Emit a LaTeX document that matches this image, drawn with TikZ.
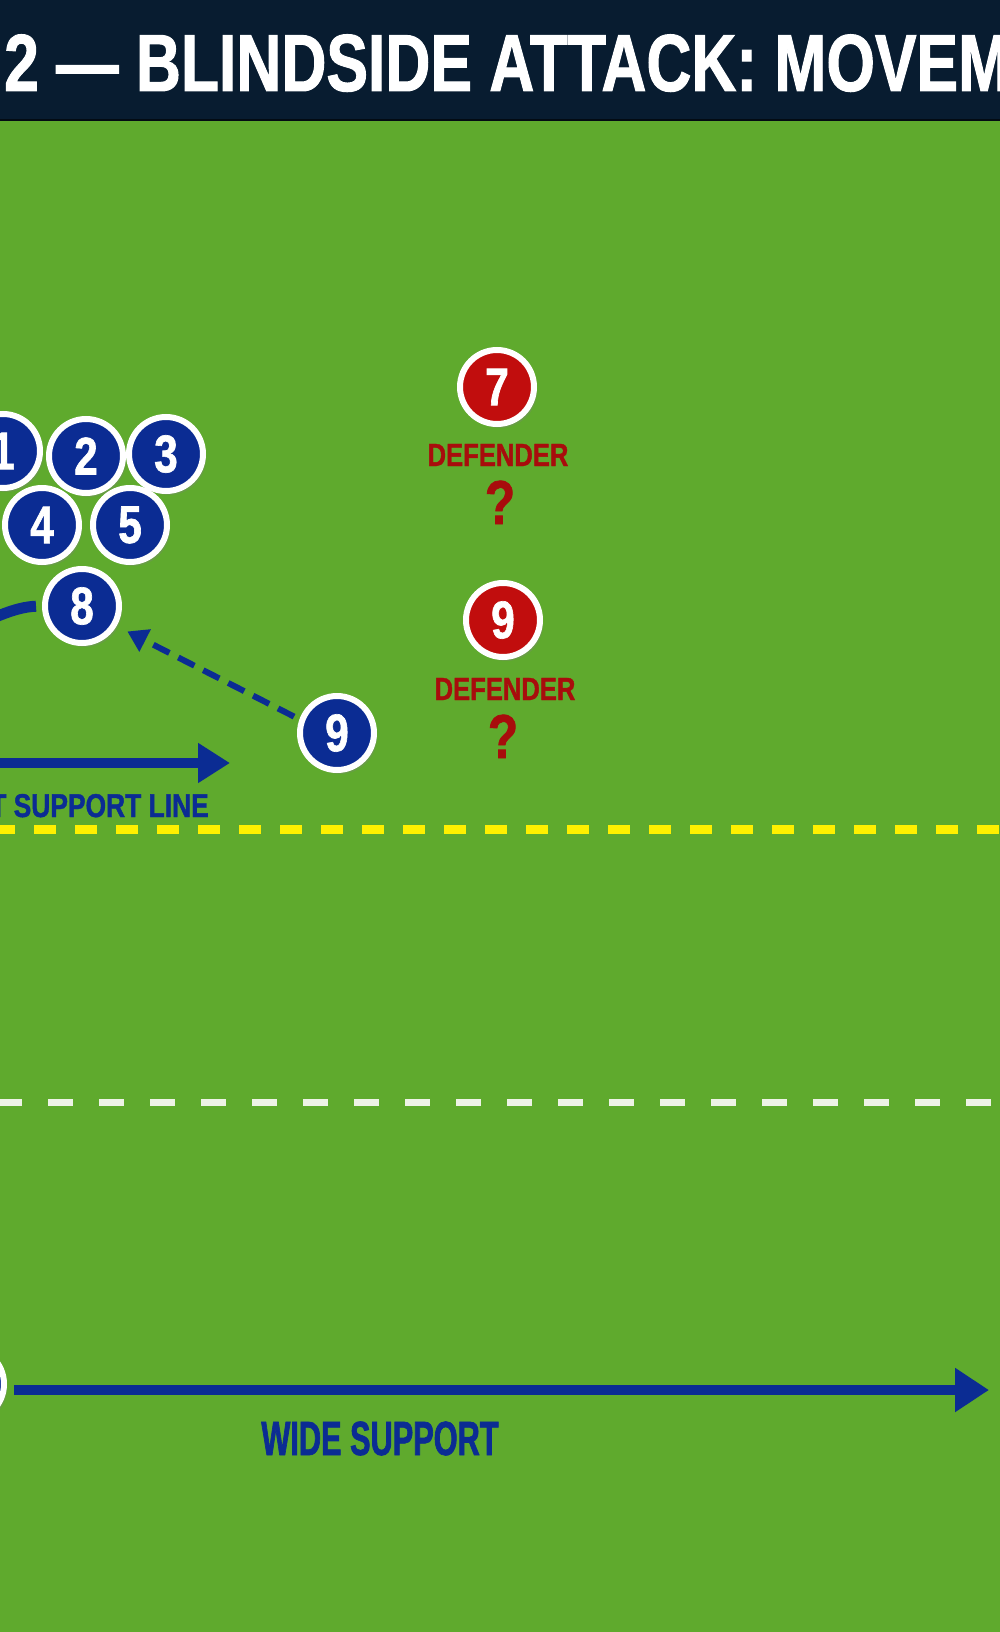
\documentclass[tikz,border=0pt]{standalone}
\usepackage{fontspec}
\setmainfont{Liberation Sans}
\newfontfamily\condfont[FakeStretch=0.8, FakeBold=1.2]{Liberation Sans}
\newfontfamily\titlefont[FakeStretch=0.77, FakeBold=1.2]{Liberation Sans}
\newfontfamily\narrowfont[FakeStretch=0.64, FakeBold=1.4]{Liberation Sans}
\usetikzlibrary{positioning,arrows.meta,shadows}

\definecolor{fieldgreen}{HTML}{5FAA2D}
\definecolor{titlenavy}{HTML}{081C30}
\definecolor{atkblue}{HTML}{0B2C93}
\definecolor{defred}{HTML}{C10D0D}
\definecolor{labelred}{HTML}{A80C0C}
\definecolor{lineyellow}{HTML}{FFF000}
\definecolor{chalk}{HTML}{EEF3E6}

\begin{document}
\begin{tikzpicture}[
    x=1pt, y=-1pt,
    player/.style={circle, draw=white, line width=6pt, fill=atkblue, minimum size=74pt, inner sep=0pt,
        text=white, font=\condfont\bfseries\fontsize{53}{53}\selectfont,
        drop shadow={shadow xshift=3pt, shadow yshift=-4pt, opacity=0.3}},
    defender/.style={player, fill=defred},
    deflabel/.style={anchor=base, inner sep=0pt, text=labelred, font=\condfont\bfseries\fontsize{32}{32}\selectfont},
    query/.style={anchor=base, inner sep=0pt, text=labelred, font=\condfont\bfseries\fontsize{62}{62}\selectfont},
    runline/.style={draw=atkblue, line width=10pt, -{Triangle[length=34pt, width=42pt]}},
    passline/.style={draw=atkblue, line width=6pt, dash pattern=on 18pt off 10pt, -{Triangle[length=20pt, width=24pt]}},
    >=latex
]
    \useasboundingbox (0,0) rectangle (1000,1632);
    \clip (0,0) rectangle (1000,1632);

    % Pitch and title bar
    \fill[fieldgreen] (0,0) rectangle (1000,1632);
    \fill[titlenavy] (0,0) rectangle (1000,119);
    \draw[black!60!titlenavy, line width=2pt] (0,120) -- (1000,120);
    \node[anchor=base west, inner sep=0pt, text=white, font=\titlefont\bfseries\fontsize{81}{81}\selectfont]
        (title) at (4,91) {2 — BLINDSIDE ATTACK: MOVEMENT};

    % Pitch lines
    \draw[lineyellow, line width=9pt, dash pattern=on 22pt off 19pt, dash phase=7pt] (0,829) -- (1000,829);
    \draw[chalk, line width=7pt, dash pattern=on 25pt off 26pt, dash phase=3pt] (0,1102) -- (1000,1102);

    % Attack (blue)
    \node[player] (p1) at (3,451) {1};
    \node[player] (p2) at (86,456) {2};
    \node[player] (p3) at (166,454) {3};
    \node[player] (p4) at (42,525) {4};
    \node[player] (p5) at (130,525) {5};
    \node[player] (p8) at (82,606) {8};
    \node[player] (p9) at (337,733) {9};
    \node[player] (pw) at (-33,1384) {};

    % Defence (red)
    \node[defender] (d7) at (497,387) {7};
    \node[deflabel] (d7lab) at (498,466) {DEFENDER};
    \node[query] (d7q) at (500,524) {?};
    \node[defender] (d9) at (503,620) {9};
    \node[deflabel] (d9lab) at (505,700) {DEFENDER};
    \node[query] (d9q) at (503,758) {?};

    % Runs
    \coordinate (loopin) at (-50,640);
    \draw[atkblue, line width=11pt, shorten >=6pt] (loopin) .. controls (-10,618) and (15,607) .. (p8.west);
    \draw[passline, shorten <=6pt, shorten >=12pt] (p9.160) -- (p8.-30);

    \coordinate (tightstart) at (-20,763);
    \coordinate (tightend) at (230,763);
    \draw[runline, -{Triangle[length=32pt, width=38pt]}] (tightstart) -- (tightend);
    \node[anchor=base east, inner sep=0pt, text=atkblue, font=\condfont\bfseries\fontsize{33}{33}\selectfont]
        (tightlab) at (209,817) {TIGHT SUPPORT LINE};

    \coordinate (wideend) at (989,1390);
    \draw[runline, shorten <=7pt] (pw.east |- wideend) -- (wideend);
    \node[anchor=base, inner sep=0pt, text=atkblue, font=\narrowfont\bfseries\fontsize{48}{48}\selectfont]
        (widelab) at (380,1455) {WIDE SUPPORT};
\end{tikzpicture}
\end{document}
